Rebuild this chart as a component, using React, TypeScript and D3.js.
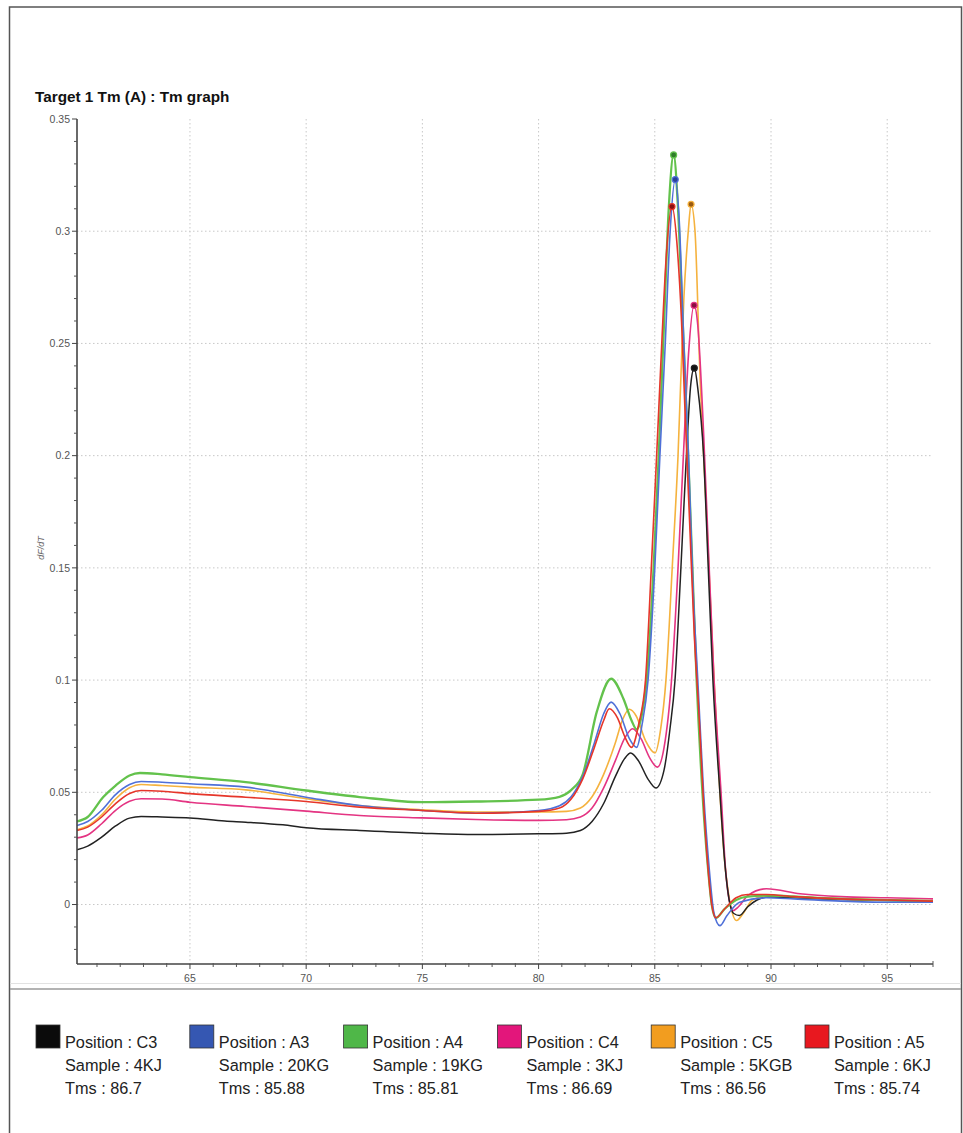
import React from "react";
import * as d3 from "d3";

// ---------- DATA ----------
const chartTitle = "Target 1 Tm (A) : Tm graph";
const yAxisLabel = "dF/dT";
const xMajorTicks = [65, 70, 75, 80, 85, 90, 95];
const yMajorTicks = [0, 0.05, 0.1, 0.15, 0.2, 0.25, 0.3, 0.35];
const yTickLabels = ["0", "0.05", "0.1", "0.15", "0.2", "0.25", "0.3", "0.35"];

// [temperature, dF/dT]
const seriesC3: [number, number][] = [
  [60.14, 0.0244], [60.6, 0.026], [61.2, 0.030], [61.8, 0.035], [62.4, 0.0385], [62.9, 0.0392],
  [63.8, 0.039], [65, 0.0386], [66.5, 0.0372], [67.4, 0.0367], [69, 0.0355], [70, 0.0342],
  [72.3, 0.033], [75, 0.0318], [77.3, 0.0312], [80, 0.0315], [81.2, 0.0318], [81.8, 0.033],
  [82.3, 0.037], [82.8, 0.045], [83.3, 0.057], [83.7, 0.065], [83.96, 0.0675], [84.3, 0.064],
  [84.7, 0.056], [85.05, 0.0519], [85.4, 0.06], [85.65, 0.078], [85.87, 0.1], [86.1, 0.145],
  [86.35, 0.198], [86.55, 0.232], [86.7, 0.239], [86.85, 0.23], [87.1, 0.2], [87.3, 0.15],
  [87.5, 0.1], [87.8, 0.05], [88.0, 0.02], [88.2, 0.002], [88.4, -0.004], [88.64, -0.0049],
  [89.0, -0.001], [89.4, 0.002], [89.9, 0.0033], [91, 0.003], [93, 0.0022], [95, 0.0018], [96.97, 0.0015],
];
const seriesA3: [number, number][] = [
  [60.14, 0.0352], [60.6, 0.037], [61.2, 0.042], [61.8, 0.049], [62.4, 0.0535], [62.9, 0.0548],
  [63.8, 0.0545], [65, 0.0538], [67.4, 0.0523], [70, 0.0478], [72.3, 0.0441], [75, 0.0419],
  [77.3, 0.0407], [80, 0.0419], [80.9, 0.044], [81.4, 0.048], [81.9, 0.057], [82.4, 0.072],
  [82.8, 0.085], [83.12, 0.0902], [83.5, 0.085], [83.9, 0.074], [84.22, 0.070], [84.45, 0.08],
  [84.71, 0.1], [85.0, 0.15], [85.22, 0.2], [85.45, 0.25], [85.65, 0.298], [85.88, 0.323],
  [86.05, 0.305], [86.25, 0.25], [86.45, 0.2], [86.65, 0.14], [86.85, 0.1], [87.1, 0.05],
  [87.35, 0.015], [87.55, -0.004], [87.8, -0.0094], [88.1, -0.005], [88.65, 0.001], [89.8, 0.003],
  [91, 0.0025], [93, 0.0015], [95, 0.001], [96.97, 0.001],
];
const seriesA4: [number, number][] = [
  [60.14, 0.037], [60.6, 0.039], [61.27, 0.0479], [61.8, 0.053], [62.4, 0.0575], [62.85, 0.0586],
  [63.8, 0.058], [65, 0.0568], [67.4, 0.0545], [70, 0.0508], [72.3, 0.0479], [75, 0.0456],
  [77.3, 0.0459], [80, 0.0467], [80.9, 0.048], [81.4, 0.051], [81.9, 0.058], [82.5, 0.0857],
  [83.12, 0.1006], [83.65, 0.0917], [84.0, 0.082], [84.22, 0.078], [84.45, 0.085], [84.65, 0.1],
  [84.95, 0.15], [85.17, 0.2], [85.4, 0.26], [85.6, 0.31], [85.81, 0.334], [86.0, 0.31],
  [86.2, 0.26], [86.4, 0.21], [86.6, 0.155], [86.8, 0.1], [87.05, 0.05], [87.3, 0.015],
  [87.45, 0.0], [87.63, -0.006], [88.0, -0.002], [88.5, 0.002], [89.0, 0.0035], [90, 0.004],
  [92, 0.003], [94, 0.0022], [96.97, 0.0015],
];
const seriesC4: [number, number][] = [
  [60.14, 0.0297], [60.6, 0.031], [61.2, 0.036], [61.8, 0.042], [62.4, 0.046], [62.9, 0.0471],
  [63.8, 0.047], [65, 0.0456], [67.4, 0.0437], [70, 0.0416], [72.3, 0.0397], [75, 0.0386],
  [77.3, 0.0379], [80, 0.0375], [81.2, 0.0378], [81.8, 0.039], [82.3, 0.043], [82.8, 0.052],
  [83.3, 0.064], [83.7, 0.074], [84.05, 0.0783], [84.4, 0.074], [84.8, 0.065], [85.11, 0.0612],
  [85.4, 0.07], [85.72, 0.1], [86.0, 0.15], [86.23, 0.2], [86.45, 0.245], [86.69, 0.267],
  [86.85, 0.258], [87.1, 0.21], [87.3, 0.16], [87.55, 0.1], [87.85, 0.05], [88.05, 0.015],
  [88.2, 0.002], [88.37, -0.0027], [88.6, -0.001], [89.0, 0.004], [89.8, 0.007], [91.25, 0.0048],
  [93, 0.0035], [95, 0.003], [96.97, 0.0025],
];
const seriesC5: [number, number][] = [
  [60.14, 0.0333], [60.6, 0.035], [61.2, 0.040], [61.8, 0.047], [62.4, 0.052], [62.9, 0.0535],
  [63.8, 0.053], [65, 0.0523], [67.4, 0.0511], [70, 0.0471], [72.3, 0.0441], [75, 0.0422],
  [77.3, 0.0412], [80, 0.0412], [81.2, 0.0415], [81.8, 0.043], [82.3, 0.048], [82.8, 0.058],
  [83.3, 0.072], [83.6, 0.082], [83.9, 0.087], [84.2, 0.084], [84.6, 0.073], [85.01, 0.0675],
  [85.25, 0.078], [85.48, 0.1], [85.75, 0.15], [86.0, 0.2], [86.25, 0.27], [86.44, 0.3],
  [86.56, 0.312], [86.73, 0.3], [86.95, 0.234], [87.15, 0.19], [87.35, 0.145], [87.55, 0.1],
  [87.8, 0.05], [88.0, 0.02], [88.2, 0.003], [88.52, -0.0071], [88.8, -0.004], [89.2, 0.002],
  [89.9, 0.004], [91, 0.0035], [93, 0.0025], [95, 0.002], [96.97, 0.0018],
];
const seriesA5: [number, number][] = [
  [60.14, 0.033], [60.6, 0.0345], [61.2, 0.039], [61.8, 0.045], [62.4, 0.0495], [62.9, 0.0508],
  [63.8, 0.0505], [65, 0.0494], [67.4, 0.0478], [70, 0.0459], [72.3, 0.0434], [75, 0.0419],
  [77.3, 0.0407], [80, 0.0415], [80.9, 0.043], [81.4, 0.047], [81.9, 0.056], [82.4, 0.07],
  [82.8, 0.082], [83.04, 0.0872], [83.4, 0.083], [83.7, 0.075], [84.0, 0.070], [84.3, 0.08],
  [84.6, 0.1], [84.85, 0.15], [85.08, 0.2], [85.3, 0.25], [85.5, 0.29], [85.74, 0.311],
  [85.95, 0.295], [86.15, 0.26], [86.3, 0.22], [86.5, 0.17], [86.7, 0.12], [86.9, 0.085],
  [87.1, 0.045], [87.3, 0.015], [87.45, 0.0], [87.63, -0.0059], [88.0, -0.002], [88.5, 0.003],
  [89.0, 0.0045], [89.8, 0.0045], [91, 0.0035], [93, 0.0025], [95, 0.002], [96.97, 0.0015],
];

const positions = ["C3", "A3", "A4", "C4", "C5", "A5"];
const samples = ["4KJ", "20KG", "19KG", "3KJ", "5KGB", "6KJ"];
const tmsValues = ["86.7", "85.88", "85.81", "86.69", "86.56", "85.74"];
const allSeries = [seriesC3, seriesA3, seriesA4, seriesC4, seriesC5, seriesA5];

// ---------- STYLE ----------
const lineColors = ["#222222", "#4f70d8", "#63c24c", "#e43482", "#f5b23e", "#e6362a"];
const markerFill = ["#111111", "#2a3f9a", "#2f7d2a", "#8a1040", "#9a5a10", "#8a1010"];
const swatchColors = ["#0b0b0b", "#3557b2", "#4fb748", "#e3167b", "#f29d1f", "#e8181f"];
const lineWidths = [1.5, 1.6, 2.3, 1.6, 1.6, 1.6];
const drawOrder = [4, 3, 0, 2, 1, 5];

export default function App() {
  const W = 963, H = 1133;
  const x = d3.scaleLinear().domain([60.14, 96.97]).range([77, 933]);
  const y = d3.scaleLinear().domain([-0.0265, 0.35]).range([964, 119]);
  const line = d3
    .line<[number, number]>()
    .x((d) => x(d[0]))
    .y((d) => y(d[1]))
    .curve(d3.curveMonotoneX);

  const xMinor = d3.range(61, 97, 1).filter((t) => t % 5 !== 0);
  const yMinor = d3.range(-2, 35, 1).map((k) => k / 100).filter((v) => Math.round(v * 100) % 5 !== 0);

  const font = "'Liberation Sans', Arial, Helvetica, sans-serif";
  const [x0, x1] = x.range();
  const [y0, y1] = y.range();

  return (
    <svg
      width={W}
      height={H}
      style={{ position: "absolute", left: 0, top: 0, background: "#fff" }}
      fontFamily={font}
    >
      <rect x={0} y={0} width={W} height={H} fill="#fff" />
      <rect x={9.5} y={7} width={952} height={1140} fill="none" stroke="#555" strokeWidth={1.5} />

      <text x={35} y={102} fontSize={15.3} fontWeight="bold" fill="#111">{chartTitle}</text>

      <defs>
        <clipPath id="plotclip">
          <rect x={x0} y={y1 - 2} width={x1 - x0} height={y0 - y1 + 2} />
        </clipPath>
      </defs>

      {/* grid */}
      {xMajorTicks.map((t) => (
        <line key={"gx" + t} x1={x(t)} x2={x(t)} y1={y1} y2={y0} stroke="#c8c8c8" strokeWidth={1} strokeDasharray="1.5,2.5" />
      ))}
      {yMajorTicks.slice(0, 7).map((v) => (
        <line key={"gy" + v} x1={x0} x2={x1} y1={y(v)} y2={y(v)} stroke="#c8c8c8" strokeWidth={1} strokeDasharray="1.5,2.5" />
      ))}

      {/* curves */}
      <g clipPath="url(#plotclip)">
        {drawOrder.map((i) => (
          <path key={"s" + i} d={line(allSeries[i]) || ""} fill="none" stroke={lineColors[i]} strokeWidth={lineWidths[i]} strokeLinejoin="round" />
        ))}
        {drawOrder.map((i) => {
          const peak = allSeries[i].reduce((a, b) => (b[1] > a[1] ? b : a));
          return (
            <circle key={"m" + i} cx={x(peak[0])} cy={y(peak[1])} r={3} fill={markerFill[i]} stroke={lineColors[i]} strokeWidth={1.2} />
          );
        })}
      </g>

      {/* y axis */}
      <line x1={x0} x2={x0} y1={y1} y2={y0} stroke="#444" strokeWidth={1.6} />
      {yMajorTicks.map((v, k) => (
        <g key={"yt" + v}>
          <line x1={x0 - 5} x2={x0} y1={y(v)} y2={y(v)} stroke="#444" strokeWidth={1} />
          <text x={x0 - 7} y={y(v) + 3.8} fontSize={10.5} fill="#555" textAnchor="end">{yTickLabels[k]}</text>
        </g>
      ))}
      {yMinor.map((v) => (
        <line key={"ym" + v} x1={x0 - 3} x2={x0} y1={y(v)} y2={y(v)} stroke="#555" strokeWidth={1} />
      ))}
      <text
        transform={`translate(44,548) rotate(-90)`}
        fontSize={9}
        fill="#666"
        fontStyle="italic"
        textAnchor="middle"
      >
        {yAxisLabel}
      </text>

      {/* x axis */}
      <line x1={x0} x2={x1} y1={y0} y2={y0} stroke="#444" strokeWidth={1.6} />
      {xMajorTicks.map((t) => (
        <g key={"xt" + t}>
          <line x1={x(t)} x2={x(t)} y1={y0} y2={y0 + 5} stroke="#444" strokeWidth={1} />
          <text x={x(t)} y={y0 + 17.5} fontSize={10.5} fill="#555" textAnchor="middle">{t}</text>
        </g>
      ))}
      {xMinor.map((t) => (
        <line key={"xm" + t} x1={x(t)} x2={x(t)} y1={y0 - 1} y2={y0 + 3} stroke="#555" strokeWidth={1} />
      ))}
      <line x1={x1} x2={x1} y1={y0 - 3} y2={y0 + 3} stroke="#555" strokeWidth={1} />

      {/* separator */}
      <line x1={10} x2={961} y1={983.5} y2={983.5} stroke="#e2e2e2" strokeWidth={1} />
      <line x1={10} x2={961} y1={989} y2={989} stroke="#9a9a9a" strokeWidth={1.6} />

      {/* legend */}
      {positions.map((p, i) => {
        const sx = 36 + i * 153.8;
        return (
          <g key={"lg" + i}>
            <rect x={sx} y={1025} width={24} height={23} fill={swatchColors[i]} stroke="#333" strokeWidth={0.8} />
            <g fontSize={16.3} fill="#222">
              <text x={sx + 29} y={1048}>{`Position : ${p}`}</text>
              <text x={sx + 29} y={1071}>{`Sample : ${samples[i]}`}</text>
              <text x={sx + 29} y={1094}>{`Tms : ${tmsValues[i]}`}</text>
            </g>
          </g>
        );
      })}
    </svg>
  );
}
